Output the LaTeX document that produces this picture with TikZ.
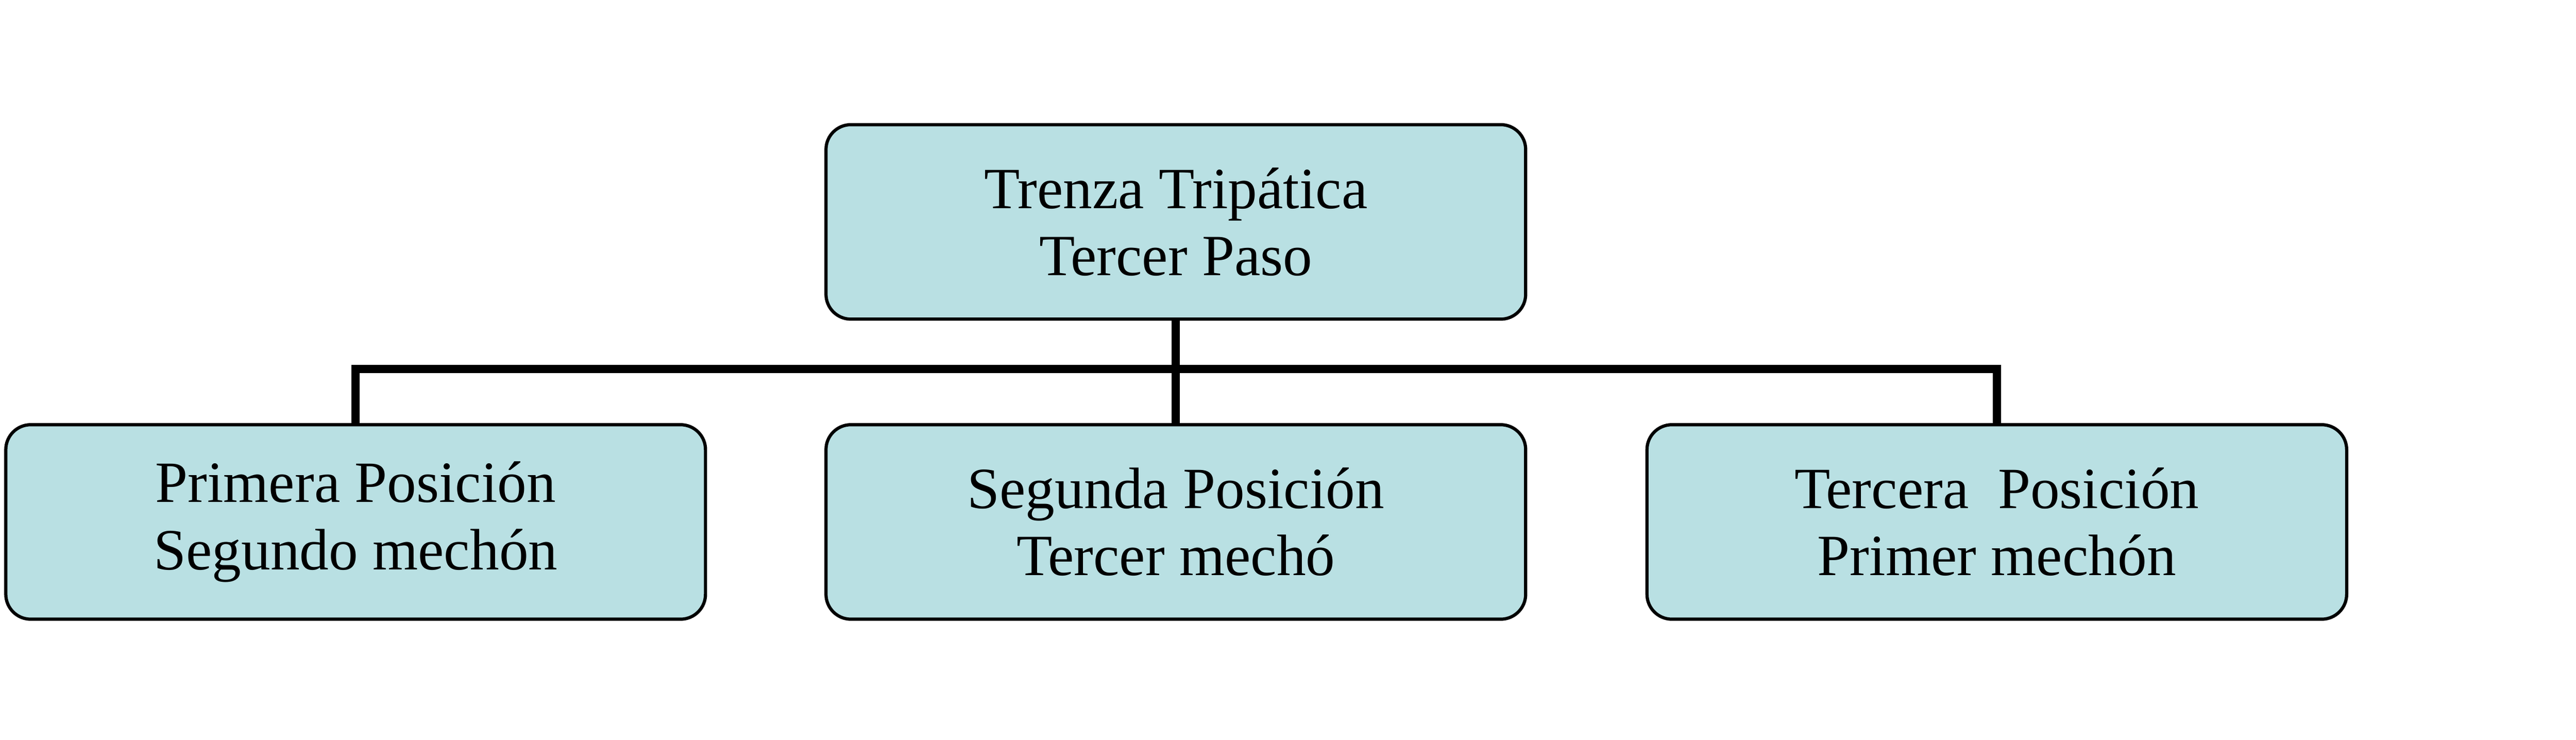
\documentclass[tikz,border=0pt]{standalone}
\usepackage{fontspec}
\setmainfont{Liberation Serif}
\usepackage{tikz}
\definecolor{boxfill}{RGB}{185,224,227}
\tikzset{
  posbox/.style={draw, line width=1.1pt, fill=boxfill, rounded corners=0.3cm,
    minimum width=8.42cm, minimum height=2.34cm, align=center,
    font=\fontsize{20}{23}\selectfont},
  link/.style={line width=2.8pt}
}
\begin{document}
\begin{tikzpicture}
\useasboundingbox (0,0) rectangle (31,8.9);

\node[posbox] (top) at (14.15,6.23) {Trenza Tripática\\Tercer Paso};
\node[posbox] (p1) at (4.28,2.62) {Primera Posición\\Segundo mechón};
\node[posbox] (p2) at (14.15,2.62) {Segunda Posición\\Tercer mechó};
\node[posbox] (p3) at (24.03,2.62) {Tercera\ \ Posición\\Primer mechón};

\coordinate (hub) at (14.15,4.46);
\draw[link] (top.south) -- (hub);
\draw[link] (p1.north) |- (hub) -| (p3.north);
\draw[link] (hub) -- (p2.north);
\end{tikzpicture}
\end{document}
